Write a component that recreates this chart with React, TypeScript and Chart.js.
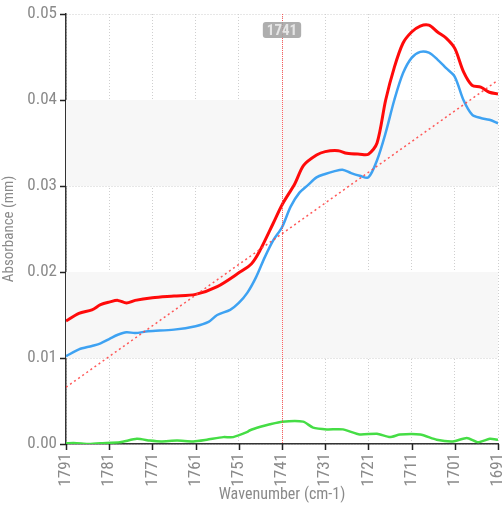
import React, { useEffect, useRef } from "react";
import { Chart, registerables } from "chart.js";

Chart.register(...registerables);

const redX = [1791, 1788, 1785, 1783, 1781, 1779, 1777, 1775, 1771, 1766, 1761, 1756, 1751, 1748, 1746, 1743, 1741, 1738, 1736, 1733, 1731, 1728, 1726, 1723, 1721, 1719, 1717, 1715, 1713, 1711, 1709, 1707, 1705, 1703, 1701, 1699, 1697, 1695, 1693, 1691];
const redY = [0.0143, 0.0152, 0.0156, 0.0162, 0.0165, 0.0167, 0.0164, 0.0167, 0.017, 0.0172, 0.0174, 0.0183, 0.0199, 0.021, 0.0226, 0.0257, 0.0278, 0.0303, 0.0324, 0.0336, 0.034, 0.0341, 0.0338, 0.0337, 0.0337, 0.035, 0.04, 0.0438, 0.0466, 0.0479, 0.0486, 0.0487, 0.0479, 0.0472, 0.046, 0.0433, 0.0417, 0.0415, 0.0409, 0.0407];

const blueX = [1791, 1788, 1785, 1783, 1781, 1779, 1777, 1775, 1772, 1766, 1761, 1758, 1756, 1753, 1751, 1749, 1747, 1745, 1743, 1741, 1739, 1737, 1735, 1733, 1731, 1729, 1727, 1725, 1723, 1721, 1719, 1717, 1715, 1713, 1711, 1709, 1707, 1705, 1703, 1701, 1699, 1697, 1695, 1693, 1691];
const blueY = [0.0102, 0.011, 0.0114, 0.0117, 0.0122, 0.0127, 0.013, 0.0129, 0.0131, 0.0133, 0.0137, 0.0142, 0.015, 0.0156, 0.0164, 0.0176, 0.0194, 0.0217, 0.0237, 0.0252, 0.0276, 0.0292, 0.0301, 0.031, 0.0314, 0.0317, 0.0319, 0.0315, 0.0312, 0.031, 0.033, 0.0362, 0.04, 0.0431, 0.0449, 0.0456, 0.0455, 0.0447, 0.0437, 0.0427, 0.04, 0.0383, 0.0379, 0.0377, 0.0373];

const greenX = [1791, 1788.5, 1786, 1783, 1778.5, 1774.6, 1771.6, 1769, 1765.3, 1761.5, 1758.4, 1754.6, 1752.3, 1749, 1748.4, 1746, 1743.8, 1741, 1736.1, 1733.8, 1730.6, 1726.9, 1723, 1719, 1716, 1713.7, 1709, 1705.2, 1701.4, 1698.2, 1695.6, 1692.9, 1691];
const greenY = [0.0001, 0.0001, 0.0, 0.0001, 0.0002, 0.0006, 0.0004, 0.0003, 0.0004, 0.0003, 0.0005, 0.0008, 0.0008, 0.0014, 0.0016, 0.002, 0.0023, 0.0026, 0.0026, 0.0019, 0.0017, 0.0017, 0.0011, 0.0012, 0.0008, 0.0011, 0.0011, 0.0005, 0.0003, 0.0007, 0.0002, 0.0006, 0.0005];

const trendX = [1791, 1691];
const trendY = [0.0066, 0.0423];

const markerX = 1741;
const markerLabel = "1741";
const bandRanges = [[0.01, 0.02], [0.03, 0.04]];

const xTicks = [1791, 1781, 1771, 1761, 1751, 1741, 1731, 1721, 1711, 1701, 1691];

const FONT = "'Liberation Sans Narrow', 'Roboto Condensed', Roboto, sans-serif";

const pts = (xs: number[], ys: number[]) => xs.map((x, i) => ({ x, y: ys[i] }));

const bandPlugin = {
  id: "bands",
  beforeDatasetsDraw(chart: any) {
    const { ctx, chartArea, scales } = chart;
    ctx.save();
    ctx.fillStyle = "#f7f7f7";
    for (const [a, b] of bandRanges) {
      const y1 = scales.y.getPixelForValue(b);
      const y2 = scales.y.getPixelForValue(a);
      ctx.fillRect(chartArea.left, y1, chartArea.right - chartArea.left, y2 - y1);
    }
    ctx.restore();
  },
};

const tickMarkPlugin = {
  id: "tickmarks",
  afterDraw(chart: any) {
    const { ctx, chartArea, scales } = chart;
    ctx.save();
    ctx.strokeStyle = "#222";
    ctx.lineWidth = 1.5;
    ctx.beginPath();
    for (const t of scales.x.ticks) {
      const x = Math.round(scales.x.getPixelForValue(t.value)) + 0.5;
      ctx.moveTo(x, chartArea.bottom);
      ctx.lineTo(x, chartArea.bottom + 6);
    }
    for (const t of scales.y.ticks) {
      const y = Math.round(scales.y.getPixelForValue(t.value)) + 0.5;
      ctx.moveTo(chartArea.left - 6, y);
      ctx.lineTo(chartArea.left, y);
    }
    ctx.stroke();
    ctx.restore();
  },
};

const markerPlugin = {
  id: "marker",
  afterDatasetsDraw(chart: any) {
    const { ctx, chartArea, scales } = chart;
    const x = scales.x.getPixelForValue(markerX);
    ctx.save();
    ctx.strokeStyle = "rgba(255,60,60,0.8)";
    ctx.lineWidth = 1;
    ctx.setLineDash([1, 1]);
    ctx.beginPath();
    ctx.moveTo(x + 0.5, chartArea.top);
    ctx.lineTo(x + 0.5, chartArea.bottom);
    ctx.stroke();
    ctx.setLineDash([]);
    ctx.font = "bold 15px " + FONT;
    const w = ctx.measureText(markerLabel).width + 8;
    const h = 16;
    const bx = x - w / 2;
    const by = chartArea.top + 8;
    ctx.fillStyle = "rgba(160,160,160,0.85)";
    ctx.beginPath();
    (ctx as any).roundRect(bx, by, w, h, 3);
    ctx.fill();
    ctx.fillStyle = "#e6e6e6";
    ctx.textAlign = "center";
    ctx.textBaseline = "middle";
    ctx.fillText(markerLabel, x, by + h / 2 + 1);
    ctx.restore();
  },
};

export default function App() {
  const ref = useRef<HTMLCanvasElement | null>(null);
  useEffect(() => {
    document.body.style.margin = "0";
    const chart = new Chart(ref.current!, {
      type: "scatter",
      data: {
        datasets: [
          { data: pts(trendX, trendY), showLine: true, borderColor: "rgba(255,70,70,0.9)", borderWidth: 1.5, borderDash: [2, 3], pointRadius: 0 },
          { data: pts(greenX, greenY), showLine: true, borderColor: "#45dd45", borderWidth: 2.5, pointRadius: 0, tension: 0.2 },
          { data: pts(blueX, blueY), showLine: true, borderColor: "#3ea2f2", borderWidth: 2.5, pointRadius: 0, tension: 0.3 },
          { data: pts(redX, redY), showLine: true, borderColor: "#ff0a0a", borderWidth: 3, pointRadius: 0, tension: 0.3 },
        ],
      },
      options: {
        animation: false,
        responsive: false,
        maintainAspectRatio: false,
        layout: { padding: { top: 14, right: 4, left: 0, bottom: 0 } },
        plugins: { legend: { display: false }, tooltip: { enabled: false } },
        scales: {
          x: {
            type: "linear",
            reverse: true,
            min: 1691,
            max: 1791,
            afterBuildTicks: (axis: any) => {
              axis.ticks = xTicks.map((v) => ({ value: v }));
            },
            afterFit: (axis: any) => {
              axis.height = 63;
              axis.paddingLeft = 0;
              axis.paddingRight = 0;
            },
            ticks: {
              minRotation: 90,
              maxRotation: 90,
              color: "#8a8a8a",
              font: { family: FONT, size: 17 },
              padding: 3,
              callback: (v: any) => String(v),
            },
            grid: { color: "#cfcfcf", tickColor: "rgba(0,0,0,0)", tickLength: 6, lineWidth: 1 } as any,
            border: { color: "#333", width: 1.5, dash: [1, 2] } as any,
            title: { display: true, text: "Wavenumber (cm-1)", color: "#8a8a8a", font: { family: FONT, size: 16 }, padding: { top: 0, bottom: 2 } },
          },
          y: {
            min: 0,
            max: 0.05,
            afterFit: (axis: any) => {
              axis.width = 66;
              axis.paddingTop = 0;
              axis.paddingBottom = 0;
            },
            ticks: {
              stepSize: 0.01,
              color: "#8a8a8a",
              font: { family: FONT, size: 17 },
              padding: 3,
              callback: (v: any) => Number(v).toFixed(2),
            },
            grid: { color: "#cfcfcf", tickColor: "rgba(0,0,0,0)", tickLength: 6, lineWidth: 1 } as any,
            border: { color: "#333", width: 1.5, dash: [1, 2] } as any,
            title: { display: true, text: "Absorbance (mm)", color: "#8a8a8a", font: { family: FONT, size: 15 }, padding: 0 },
          },
        },
      },
      plugins: [bandPlugin, markerPlugin, tickMarkPlugin],
    } as any);
    return () => chart.destroy();
  }, []);
  return (
    <div style={{ position: "absolute", left: 0, top: 0, width: 502, height: 507 }}>
      <canvas ref={ref} width={502} height={507} style={{ width: 502, height: 507 }} />
    </div>
  );
}
